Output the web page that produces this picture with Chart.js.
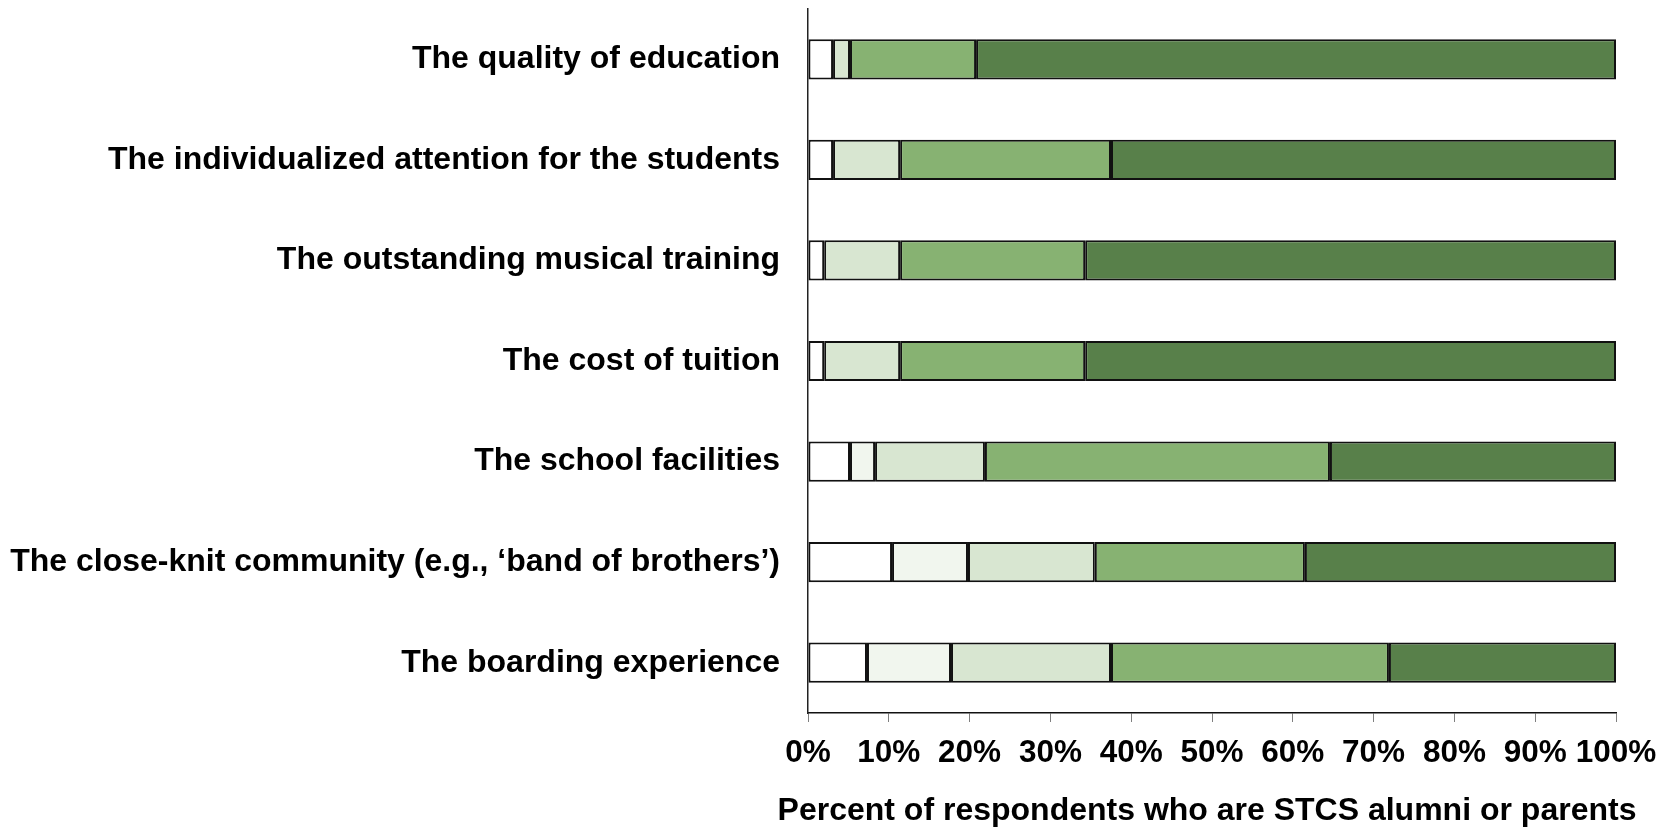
<!DOCTYPE html>
<html>
<head>
<meta charset="utf-8">
<title>STCS survey chart</title>
<script src="https://cdn.jsdelivr.net/npm/chart.js@4.4.1/dist/chart.umd.min.js"></script>
<style>
    html, body { margin: 0; padding: 0; background: #ffffff; }
    #grafico { display: block; }
</style>
</head>
<body>
<canvas id="grafico" width="1675" height="828"></canvas>
<script>
// categorias (de arriba hacia abajo)
const categorias = [
    'The quality of education',
    'The individualized attention for the students',
    'The outstanding musical training',
    'The cost of tuition',
    'The school facilities',
    'The close-knit community (e.g., \u2018band of brothers\u2019)',
    'The boarding experience'
]

// porcentaje de respuestas por nivel
const nivel1 = [3.1, 3.1, 2.0, 2.0, 5.2, 10.4, 7.3]
const nivel2 = [0, 0, 0, 0, 3.1, 9.4, 10.4]
const nivel3 = [2.1, 8.3, 9.4, 9.4, 13.6, 15.7, 19.8]
const nivel4 = [15.6, 26.1, 22.9, 22.9, 42.7, 26.0, 34.4]
const nivel5 = [79.2, 62.5, 65.7, 65.7, 35.4, 38.5, 28.1]

const nombresNiveles = ['Not important', 'Slightly important', 'Moderately important', 'Very important', 'Extremely important']
const ticksX = [0, 10, 20, 30, 40, 50, 60, 70, 80, 90, 100]
const tituloX = 'Percent of respondents who are STCS alumni or parents'

const colores = ['#ffffff', '#f1f6ee', '#d8e6d1', '#87b272', '#58804a']
const fuente = '"Liberation Sans", Arial, Helvetica, sans-serif'

document.addEventListener('DOMContentLoaded', () => {
    dibujar_grafico()
})

// titulo del eje x: el del propio eje se comprime al ancho del area, asi que lo pintamos aparte
const tituloEjeX = {
    id: 'tituloEjeX',
    afterDraw(chart) {
        const eje = chart.scales.x
        const ctx = chart.ctx
        ctx.save()
        ctx.font = 'bold 32px ' + fuente
        ctx.fillStyle = '#000000'
        ctx.textAlign = 'center'
        ctx.textBaseline = 'middle'
        ctx.fillText(tituloX, (eje.left + eje.right) / 2 - 5, eje.bottom - 17)
        ctx.restore()
    }
}

function dibujar_grafico() {
    const series = [nivel1, nivel2, nivel3, nivel4, nivel5]
    const datasets = series.map((valores, i) => ({
        label: nombresNiveles[i],
        data: valores,
        backgroundColor: colores[i],
        borderColor: '#111111',
        borderWidth: 2,
        borderSkipped: false,
        barPercentage: 0.4,
        categoryPercentage: 1.0
    }))

    const config = {
        type: 'bar',
        data: {
            labels: categorias,
            datasets: datasets
        },
        options: {
            indexAxis: 'y',
            responsive: false,
            animation: false,
            devicePixelRatio: 1,
            layout: {
                padding: { left: 0, right: 59, top: 9, bottom: 0 }
            },
            plugins: {
                legend: { display: false },
                tooltip: { enabled: false }
            },
            scales: {
                x: {
                    stacked: true,
                    min: 0,
                    max: 100,
                    afterBuildTicks: (scale) => {
                        scale.ticks = ticksX.map(v => ({ value: v }))
                    },
                    afterFit: (scale) => {
                        scale.height = 115
                        scale.paddingLeft = 0
                        scale.paddingRight = 0
                    },
                    grid: {
                        display: true,
                        drawOnChartArea: false,
                        drawTicks: true,
                        tickLength: 9,
                        color: '#7f7f7f'
                    },
                    border: {
                        display: true,
                        color: '#111111',
                        width: 1.5
                    },
                    ticks: {
                        autoSkip: false,
                        maxRotation: 0,
                        padding: 12,
                        color: '#000000',
                        font: { family: fuente, size: 31.5, weight: 'bold' },
                        callback: (valor) => valor + '%'
                    },
                    title: { display: false }
                },
                y: {
                    stacked: true,
                    afterFit: (scale) => {
                        scale.width = 808
                        scale.paddingTop = 0
                        scale.paddingBottom = 0
                    },
                    grid: {
                        display: false,
                        drawTicks: false
                    },
                    border: {
                        display: true,
                        color: '#222222',
                        width: 1.5
                    },
                    ticks: {
                        padding: 28,
                        color: '#000000',
                        font: { family: fuente, size: 32, weight: 'bold' }
                    }
                }
            }
        },
        plugins: [tituloEjeX]
    }

    const ctx = document.getElementById('grafico').getContext('2d')
    new Chart(ctx, config)
}
</script>
</body>
</html>
